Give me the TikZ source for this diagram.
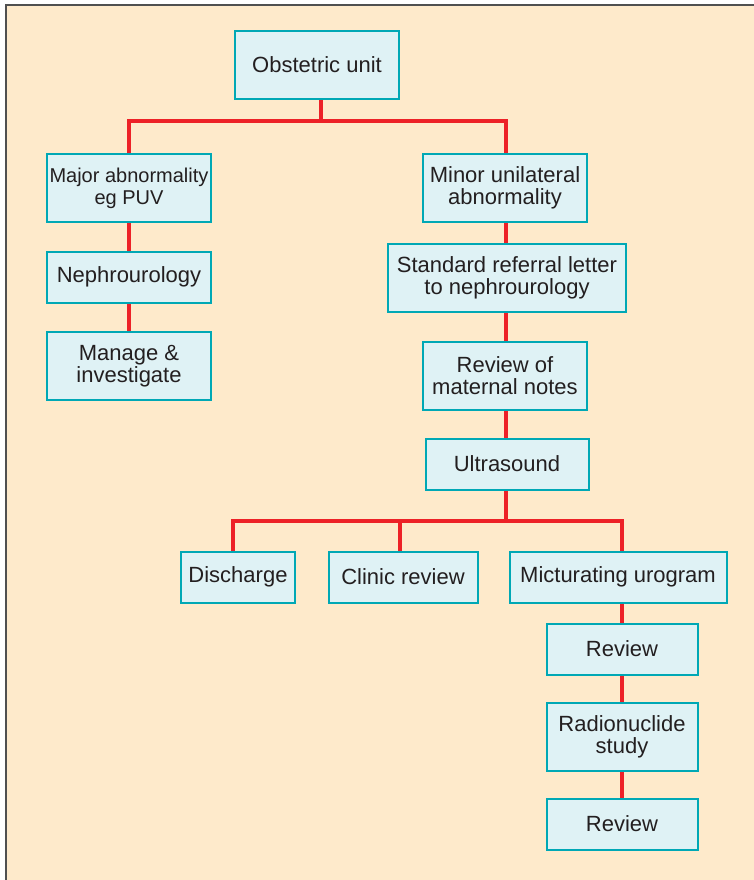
\documentclass[tikz,border=0pt]{standalone}
\usepackage{fontspec}
\setmainfont{Liberation Sans}
\usepackage{tikz}
\usetikzlibrary{positioning}
\definecolor{sheet}{RGB}{254,234,203}
\definecolor{boxfill}{RGB}{223,242,245}
\definecolor{boxline}{RGB}{0,168,181}
\definecolor{linkred}{RGB}{237,33,39}
\definecolor{ink}{RGB}{35,31,32}
\definecolor{frame}{RGB}{80,80,80}

\begin{document}
\begin{tikzpicture}[x=0.5pt,y=-0.5pt,
  unit node/.style={rectangle,draw=boxline,fill=boxfill,line width=1pt,inner sep=0pt,align=center,text=ink,font=\fontsize{11}{11}\selectfont,minimum height=25.5pt},
  tall node/.style={unit node,minimum height=34pt},
  link/.style={draw=linkred,line width=2pt}]

	\useasboundingbox (0,0) rectangle (754,880);
	\fill[sheet] (6,5) rectangle (754,880);
	\draw[frame,line width=1pt] (754,5) -- (6,5) -- (6,880);

	% left branch
	\node[tall node,minimum width=82pt] (obst) at (317,65) {Obstetric unit};
	\node[tall node,minimum width=82pt,font=\fontsize{10}{11}\selectfont] (major) at (129,188) {Major abnormality\\eg PUV};
	\node[unit node,minimum width=82pt] (nephro) at (129,277) {Nephrourology};
	\node[tall node,minimum width=82pt] (manage) at (129,366) {Manage \&\\investigate};

	% right branch
	\node[tall node,minimum width=82pt] (minor) at (505,188) {Minor unilateral\\abnormality};
	\node[tall node,minimum width=119pt] (letter) at (507,278) {Standard referral letter\\to nephrourology};
	\node[tall node,minimum width=82pt] (notes) at (505,376) {Review of\\maternal notes};
	\node[unit node,minimum width=81.5pt] (us) at (507,464) {Ultrasound};

	\node[unit node,minimum width=57pt] (discharge) at (238,577) {Discharge};
	\node[unit node,minimum width=74.5pt] (clinic) at (403,577) {Clinic review};
	\node[unit node,minimum width=108.5pt] (mcug) at (618,577) {Micturating urogram};
	\node[unit node,minimum width=75.5pt] (review1) at (622,649) {Review};
	\node[tall node,minimum width=75.5pt] (radio) at (622,737) {Radionuclide\\study};
	\node[unit node,minimum width=75.5pt] (review2) at (622,824) {Review};

	\coordinate (split1) at (321,121);
	\coordinate (split2) at (506,521);

	\draw[link] (obst.south -| split1) -- (split1);
	\draw[link] (major) |- (split1) -| (minor.north -| split2);
	\draw[link] (major) -- (nephro);
	\draw[link] (nephro) -- (manage);
	\draw[link] (minor.south -| split2) -- (letter.north -| split2);
	\draw[link] (letter.south -| split2) -- (notes.north -| split2);
	\draw[link] (notes.south -| split2) -- (us.north -| split2);
	\draw[link] (us.south -| split2) -- (split2);
	\draw[link] (discharge.north -| 233,0) |- (split2) -| (review1 |- mcug.north);
	\draw[link] (clinic.north -| 400,0) -- (split2 -| 400,0);
	\draw[link] (mcug.south -| review1) -- (review1);
	\draw[link] (review1) -- (radio);
	\draw[link] (radio) -- (review2);
\end{tikzpicture}
\end{document}
